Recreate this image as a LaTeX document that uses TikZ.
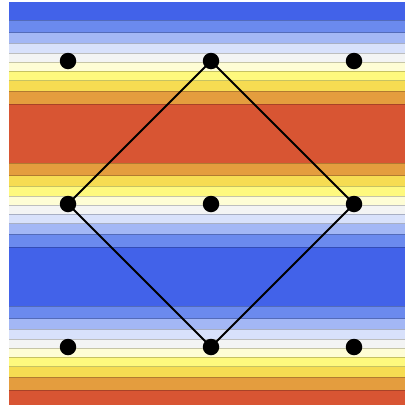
\documentclass[tikz,border=0pt]{standalone}
\definecolor{cA}{HTML}{4262E9}
\definecolor{cB}{HTML}{6B8AEE}
\definecolor{cC}{HTML}{A3B7F5}
\definecolor{cD}{HTML}{D8E1FB}
\definecolor{cE}{HTML}{F3F4F4}
\definecolor{cF}{HTML}{FEFDD5}
\definecolor{cG}{HTML}{FEF97E}
\definecolor{cH}{HTML}{F6DC52}
\definecolor{cI}{HTML}{E49D3E}
\definecolor{cJ}{HTML}{D85533}
\tikzset{
  dot/.style={circle,fill=black,inner sep=0pt,minimum size=16.5pt},
  edge/.style={draw=black,line width=2pt},
  contour/.style={draw=black,opacity=0.22,line width=0.6pt}
}
\newcommand{\bandrect}[3]{\fill[#1] (9,#2) rectangle (405,#3);}
\begin{document}
\begin{tikzpicture}[x=1pt,y=-1pt]
\useasboundingbox (0,0) rectangle (406,407);
\fill[white] (0,0) rectangle (406,407);
% bands (top to bottom)
\bandrect{cA}{2}{19.8}
\bandrect{cB}{19.8}{32.7}
\bandrect{cC}{32.7}{43.3}
\bandrect{cD}{43.3}{52.8}
\bandrect{cE}{52.8}{62}
\bandrect{cF}{62}{71.2}
\bandrect{cG}{71.2}{80.7}
\bandrect{cH}{80.7}{91.3}
\bandrect{cI}{91.3}{104.2}
\bandrect{cJ}{104.2}{162.8}
\bandrect{cI}{162.8}{175.7}
\bandrect{cH}{175.7}{186.3}
\bandrect{cG}{186.3}{195.8}
\bandrect{cF}{195.8}{205}
\bandrect{cE}{205}{214.2}
\bandrect{cD}{214.2}{223.7}
\bandrect{cC}{223.7}{234.3}
\bandrect{cB}{234.3}{247.2}
\bandrect{cA}{247.2}{305.8}
\bandrect{cB}{305.8}{318.7}
\bandrect{cC}{318.7}{329.3}
\bandrect{cD}{329.3}{338.8}
\bandrect{cE}{338.8}{348}
\bandrect{cF}{348}{357.2}
\bandrect{cG}{357.2}{366.7}
\bandrect{cH}{366.7}{377.3}
\bandrect{cI}{377.3}{390.2}
\bandrect{cJ}{390.2}{405}
% contour lines
\foreach \yy in {19.8,32.7,43.3,52.8,62,71.2,80.7,91.3,104.2,162.8,175.7,186.3,195.8,205,214.2,223.7,234.3,247.2,305.8,318.7,329.3,338.8,348,357.2,366.7,377.3,390.2}
  \draw[contour] (9,\yy) -- (405,\yy);
% nodes
\node[dot] (a1) at (68,61) {};
\node[dot] (a2) at (211,61) {};
\node[dot] (a3) at (354,61) {};
\node[dot] (b1) at (68,204) {};
\node[dot] (b2) at (211,204) {};
\node[dot] (b3) at (354,204) {};
\node[dot] (c1) at (68,347) {};
\node[dot] (c2) at (211,347) {};
\node[dot] (c3) at (354,347) {};
% diamond
\draw[edge] (a2.center) -- (b3.center) -- (c2.center) -- (b1.center) -- cycle;
\end{tikzpicture}
\end{document}
